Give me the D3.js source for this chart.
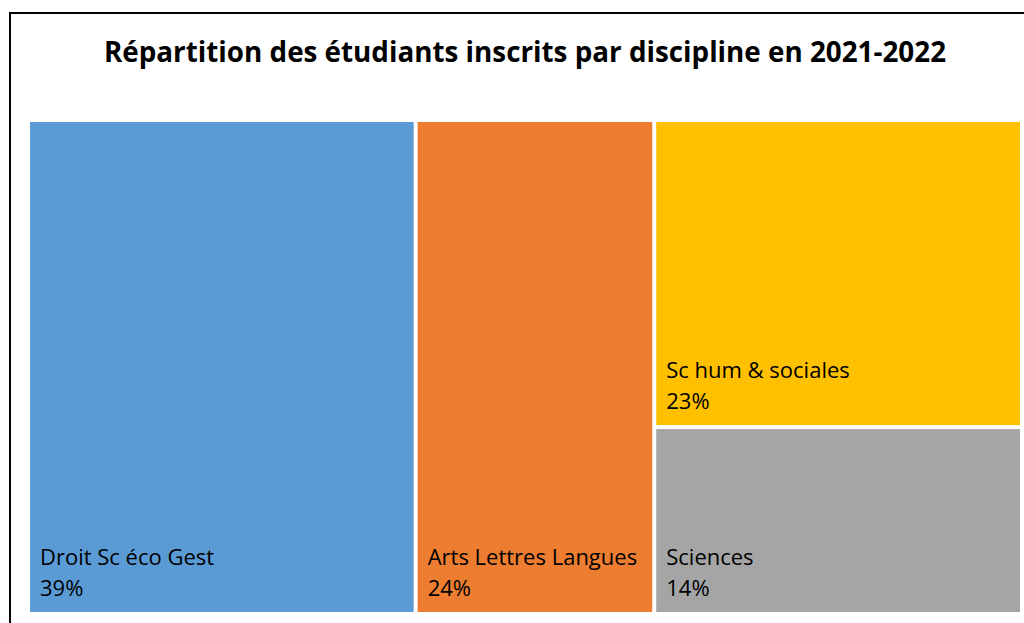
<!DOCTYPE html>
<html>
<head>
<meta charset="utf-8">
<script src="https://cdn.jsdelivr.net/npm/d3@7"></script>
<style>
  body { margin: 0; background: #fff; }
  svg { display: block; }
</style>
</head>
<body>
<div id="chart"></div>
<script>
// chart data
var categories = ["Droit Sc éco Gest", "Arts Lettres Langues", "Sc hum & sociales", "Sciences"];
var shares = [39, 24, 23, 14];
var colors = ["#5B9BD5", "#ED7D31", "#FFC000", "#A5A5A5"];
// the last two share a column in the layout
var stacked = [false, false, true, true];

var svgWidth = 1024;
var svgHeight = 623;

var area = { left: 30, top: 122, right: 1020, bottom: 612 };

var svg = d3.select("#chart")
  .append("svg")
  .attr("width", svgWidth)
  .attr("height", svgHeight);

// outer frame (runs off the right and bottom edges)
svg.append("rect")
  .attr("x", 10)
  .attr("y", 13)
  .attr("width", 1030)
  .attr("height", 640)
  .attr("fill", "none")
  .attr("stroke", "#000")
  .attr("stroke-width", 2);

svg.append("text")
  .attr("x", 525)
  .attr("y", 62)
  .attr("text-anchor", "middle")
  .style("font-family", "'Open Sans', sans-serif")
  .style("font-weight", "bold")
  .style("font-size", "27.8px")
  .attr("fill", "#000")
  .text("Répartition des étudiants inscrits par discipline en 2021-2022");

// build hierarchy: root -> [single, single, group(stacked)]
var items = categories.map(function(c, i) {
  return { name: c, value: shares[i], color: colors[i] };
});
var children = [];
var group = null;
items.forEach(function(d, i) {
  if (stacked[i]) {
    if (!group) { group = { name: "group", children: [] }; children.push(group); }
    group.children.push(d);
  } else {
    children.push(d);
  }
});

var root = d3.hierarchy({ name: "root", children: children })
  .sum(function(d) { return d.children ? 0 : d.value; });

d3.treemap()
  .tile(d3.treemapSliceDice)
  .size([area.right - area.left, area.bottom - area.top])
  .paddingInner(4)
  .round(false)(root);

var leafGrp = svg.append("g")
  .attr("transform", `translate(${area.left}, ${area.top})`);

var cells = leafGrp.selectAll("g")
  .data(root.leaves())
  .enter()
  .append("g")
  .attr("transform", d => `translate(${d.x0}, ${d.y0})`);

cells.append("rect")
  .attr("width", d => d.x1 - d.x0)
  .attr("height", d => d.y1 - d.y0)
  .attr("fill", d => d.data.color);

cells.append("text")
  .attr("x", 10)
  .attr("y", d => d.y1 - d.y0 - 47)
  .style("font-family", "'Open Sans', sans-serif")
  .style("font-size", "22px")
  .attr("fill", "#000")
  .text(d => d.data.name);

cells.append("text")
  .attr("x", 10)
  .attr("y", d => d.y1 - d.y0 - 16)
  .style("font-family", "'Open Sans', sans-serif")
  .style("font-size", "22px")
  .attr("fill", "#000")
  .text(d => d.data.value + "%");
</script>
</body>
</html>
